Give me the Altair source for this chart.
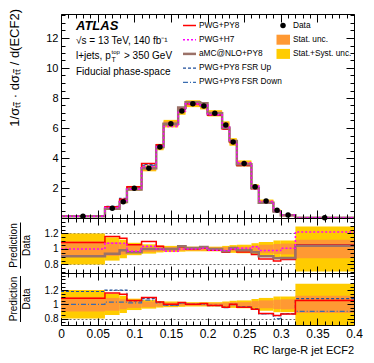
import altair as alt
import pandas as pd

# ---------------- data ----------------
edges = [0, 0.06, 0.08, 0.09, 0.11, 0.13, 0.14, 0.16, 0.17, 0.19, 0.20,
         0.22, 0.23, 0.24, 0.26, 0.27, 0.29, 0.30, 0.32, 0.40]
data_vals = [0.12, 0.65, 1.09, 1.98, 3.31, 4.73, 6.29, 7.13, 7.62, 7.46,
             6.98, 6.20, 5.07, 3.64, 2.09, 1.13, 0.51, 0.20, 0.02]
stat_rel = [0.10, 0.09, 0.07, 0.05, 0.04, 0.03, 0.025, 0.02, 0.02, 0.02,
            0.02, 0.025, 0.03, 0.03, 0.045, 0.055, 0.065, 0.07, 0.12]
tot_rel = [0.20, 0.15, 0.12, 0.08, 0.06, 0.045, 0.04, 0.035, 0.03, 0.03,
           0.03, 0.04, 0.05, 0.055, 0.075, 0.09, 0.11, 0.11, 0.29]
ratio_pwg_py8 = [1.085, 1.16, 1.14, 1.055, 1.097, 1.034, 1.0, 1.025, 1.0, 1.013,
                 0.983, 0.958, 1.0, 0.96, 0.93, 0.87, 0.845, 0.865, 1.055]
ratio_pwg_h7 = [1.0, 1.075, 1.075, 0.97, 1.035, 1.0, 0.97, 1.0, 1.0, 1.01,
                0.985, 0.98, 1.0, 1.01, 1.03, 0.98, 0.98, 1.01, 1.22]
ratio_amc_py8 = [0.907, 0.94, 0.983, 0.958, 1.0, 1.0, 1.0, 1.034, 1.013, 1.025,
                 1.0, 0.97, 1.013, 0.983, 0.958, 0.907, 0.88, 0.885, 1.042]
ratio_fsr_up = [1.18, 1.20, 1.20, 1.05, 1.08, 1.03, 0.99, 1.02, 1.0, 1.01,
                0.985, 0.96, 1.0, 0.965, 0.935, 0.87, 0.84, 0.87, 1.08]
ratio_fsr_down = [1.0, 1.03, 1.03, 1.02, 1.06, 1.02, 0.99, 1.02, 1.0, 1.0,
                  0.98, 0.955, 0.995, 0.96, 0.93, 0.865, 0.80, 0.865, 0.90]

x_major = [0, 0.05, 0.1, 0.15, 0.2, 0.25, 0.3, 0.35, 0.4]
x_minor = [round(i / 100, 2) for i in range(41) if i % 5]
main_y_major = [2, 4, 6, 8, 10, 12]
main_y_minor = [i * 0.5 for i in range(1, 28) if i % 4]
ratio_y_major = [0.8, 1.0, 1.2]
ratio_y_minor = [round(0.7 + 0.05 * i, 2) for i in range(16)]

legend_models = ["PWG+PY8", "PWG+H7", "aMC@NLO+PY8", "PWG+PY8 FSR Up", "PWG+PY8 FSR Down"]
legend_unc = ["Data", "Stat. unc.", "Stat.+Syst. unc."]

# ---------------- style ----------------
FONT = "Liberation Sans"
W, H_MAIN, H_R1, H_R2 = 293, 204, 55, 52
XDOM = [0, 0.4]
MAIN_YDOM = [0, 13.6]
R1_YDOM = [0.69, 1.40]
R2_YDOM = [0.71, 1.44]
YELLOW, ORANGE = "#FFCC00", "#FF9933"
STY = {
    "PWG+PY8": dict(color="#FF0000", strokeWidth=1.5),
    "PWG+H7": dict(color="#FF00FF", strokeWidth=1.5, strokeDash=[2, 2]),
    "aMC@NLO+PY8": dict(color="#9B7168", strokeWidth=2.5),
    "PWG+PY8 FSR Up": dict(color="#1F4E9A", strokeWidth=1.2, strokeDash=[3, 2]),
    "PWG+PY8 FSR Down": dict(color="#3A6DB0", strokeWidth=1.2, strokeDash=[5, 2, 1, 2]),
}

lo, hi = edges[:-1], edges[1:]
bins = pd.DataFrame({"lo": lo, "hi": hi, "ctr": [(a + b) / 2 for a, b in zip(lo, hi)],
                     "data": data_vals, "stat": stat_rel, "tot": tot_rel})
bins["m_tlo"] = bins.data * (1 - bins.tot)
bins["m_thi"] = bins.data * (1 + bins.tot)
bins["m_slo"] = bins.data * (1 - bins.stat)
bins["m_shi"] = bins.data * (1 + bins.stat)
bins["r_tlo"] = 1 - bins.tot
bins["r_thi"] = 1 + bins.tot
bins["r_slo"] = 1 - bins.stat
bins["r_shi"] = 1 + bins.stat

ratios = {"PWG+PY8": ratio_pwg_py8, "PWG+H7": ratio_pwg_h7, "aMC@NLO+PY8": ratio_amc_py8,
          "PWG+PY8 FSR Up": ratio_fsr_up, "PWG+PY8 FSR Down": ratio_fsr_down}


def xs():
    return alt.Scale(domain=XDOM, nice=False, zero=False)


def ys(dom):
    return alt.Scale(domain=dom, nice=False, zero=False)


def band(ydom, y, y2, color):
    return alt.Chart(bins).mark_rect(color=color, clip=True).encode(
        x=alt.X("lo:Q", scale=xs(), axis=None), x2="hi:Q",
        y=alt.Y(f"{y}:Q", scale=ys(ydom), axis=None), y2=f"{y2}:Q")


def step(values, ydom, name):
    df = pd.DataFrame({"x": list(edges), "y": list(values) + [values[-1]]})
    return alt.Chart(df).mark_line(interpolate="step-after", clip=True, **STY[name]).encode(
        x=alt.X("x:Q", scale=xs(), axis=None),
        y=alt.Y("y:Q", scale=ys(ydom), axis=None))


ONE = alt.Data(values=[{"a": 1}])


def text_at(txt, x, y, size, align="left", baseline="middle", **kw):
    return alt.Chart(ONE).mark_text(text=txt, font=FONT, fontSize=size, align=align,
                                    baseline=baseline, color="black", **kw).encode(
        x=alt.value(x), y=alt.value(y))


def axis_layers(ydom, ymaj, ymin, xlabels, ylab_size, maj=8, mnr=4, grid=None):
    anchor = pd.DataFrame({"x": [0.2], "y": [(ydom[0] + ydom[1]) / 2]})
    common = dict(domain=False, grid=False, title=None, tickColor="black", tickWidth=1,
                  zindex=1, labelFont=FONT, labelColor="black", format="~g",
                  labelFlush=False, labelOverlap=False, labelPadding=3)
    out = []
    if grid:
        out.append(alt.Chart(anchor).mark_point(opacity=0).encode(
            x=alt.X("x:Q", scale=xs(), axis=None),
            y=alt.Y("y:Q", scale=ys(ydom), axis=alt.Axis(
                orient="left", values=grid, grid=True, gridDash=[2, 2], gridColor="#666666",
                gridWidth=1, ticks=False, labels=False, domain=False, title=None, zindex=0))))
    for xo, xv, xl, xlab, yo, yv, yl, ylab in [
        ("bottom", x_major, maj, xlabels, "left", ymaj, maj, True),
        ("top", x_major, maj, False, "right", ymaj, maj, False),
        ("bottom", x_minor, mnr, False, "left", ymin, mnr, False),
        ("top", x_minor, mnr, False, "right", ymin, mnr, False),
    ]:
        out.append(alt.Chart(anchor).mark_point(opacity=0).encode(
            x=alt.X("x:Q", scale=xs(), axis=alt.Axis(
                orient=xo, values=xv, tickSize=xl, offset=-xl, labels=xlab,
                labelFontSize=12, **common)),
            y=alt.Y("y:Q", scale=ys(ydom), axis=alt.Axis(
                orient=yo, values=yv, tickSize=yl, offset=-yl, labels=ylab,
                labelFontSize=ylab_size, **common))))
    return out


# ---------------- main panel ----------------
main_layers = [
    band(MAIN_YDOM, "m_tlo", "m_thi", YELLOW),
    band(MAIN_YDOM, "m_slo", "m_shi", ORANGE),
]
for name in ["PWG+PY8 FSR Up", "PWG+PY8 FSR Down", "PWG+PY8", "aMC@NLO+PY8", "PWG+H7"]:
    main_layers.append(step([d * r for d, r in zip(data_vals, ratios[name])], MAIN_YDOM, name))
main_layers.append(alt.Chart(bins).mark_circle(size=30, color="black", opacity=1).encode(
    x=alt.X("ctr:Q", scale=xs(), axis=None), y=alt.Y("data:Q", scale=ys(MAIN_YDOM), axis=None)))

# annotations
main_layers += [
    text_at("ATLAS", 15, 12, 13, fontWeight="bold", fontStyle="italic"),
    text_at("\u221As = 13 TeV, 140 fb\u207B\u00B9", 15, 27, 10),
    text_at("l+jets, p", 15, 42, 10),
    text_at("T", 50.5, 45.5, 7),
    text_at("top", 50.5, 37.5, 6),
    text_at("> 350 GeV", 63, 42, 10),
    text_at("Fiducial phase-space", 15, 58, 10),
    text_at("1/\u03C3\u209C\u209C\u0304 \u00B7 d\u03C3\u209C\u209C\u0304 / d(ECF2)", -46.5, -5, 13,
            align="right", angle=270),
]
# legend
for i, name in enumerate(legend_models):
    yy = 11.5 + 14.2 * i
    main_layers.append(alt.Chart(ONE).mark_rule(**STY[name]).encode(
        x=alt.value(122), x2=alt.value(135), y=alt.value(yy)))
    main_layers.append(text_at(name, 138, yy, 8.3))
for i, name in enumerate(legend_unc):
    yy = 11.5 + 14.2 * i
    if i == 0:
        main_layers.append(alt.Chart(ONE).mark_circle(size=30, color="black", opacity=1).encode(
            x=alt.value(222), y=alt.value(yy)))
    else:
        main_layers.append(alt.Chart(ONE).mark_rect(color=ORANGE if i == 1 else YELLOW).encode(
            x=alt.value(215.5), x2=alt.value(229), y=alt.value(yy - 5), y2=alt.value(yy + 5)))
    main_layers.append(text_at(name, 232, yy, 8.3))

main_layers += axis_layers(MAIN_YDOM, main_y_major, main_y_minor, False, 11)
main = alt.layer(*main_layers).properties(width=W, height=H_MAIN).resolve_axis(
    x="independent", y="independent")


# ---------------- ratio panels ----------------
def ratio_panel(ydom, height, models, xlabels):
    layers = [band(ydom, "r_tlo", "r_thi", YELLOW), band(ydom, "r_slo", "r_shi", ORANGE)]
    for name in models:
        layers.append(step(ratios[name], ydom, name))
    mid = height / 2
    layers += [
        text_at("Prediction", -47, mid, 10, align="center", angle=270),
        text_at("Data", -34, mid, 10, align="center", angle=270),
        alt.Chart(ONE).mark_rule(color="black", strokeWidth=1).encode(
            x=alt.value(-40.5), y=alt.value(mid - 23), y2=alt.value(mid + 23)),
    ]
    if xlabels:
        layers.append(text_at("RC large-R jet ECF2", W, height + 26, 11, align="right"))
    layers += axis_layers(ydom, ratio_y_major, ratio_y_minor, xlabels, 10, maj=7, mnr=4,
                          grid=ratio_y_major)
    return alt.layer(*layers).properties(width=W, height=height).resolve_axis(
        x="independent", y="independent")


r1 = ratio_panel(R1_YDOM, H_R1, ["PWG+PY8", "aMC@NLO+PY8", "PWG+H7"], False)
r2 = ratio_panel(R2_YDOM, H_R2, ["PWG+PY8 FSR Up", "PWG+PY8 FSR Down", "PWG+PY8"], True)

chart = alt.vconcat(main, r1, r2, spacing=0, bounds="flush").properties(
    padding=0, background="white").configure_view(stroke="black", strokeWidth=1)

chart.save("out.html", embed_options={"renderer": "svg", "actions": False})
